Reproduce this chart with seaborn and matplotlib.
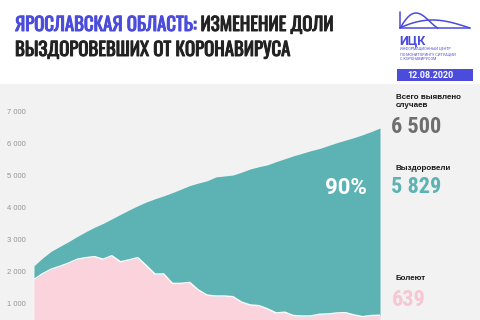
import numpy as np
import pandas as pd
import seaborn as sns
import matplotlib.pyplot as plt
import matplotlib.patheffects as pe
from matplotlib import font_manager

# данные
day = list(range(41))
total = [2195, 2440, 2650, 2800, 2950, 3110, 3260, 3400, 3520, 3660,
         3800, 3940, 4070, 4190, 4290, 4380, 4480, 4590, 4700, 4780,
         4850, 4970, 5000, 5030, 5120, 5220, 5290, 5350, 5450, 5540,
         5630, 5710, 5790, 5860, 5950, 6040, 6120, 6200, 6290, 6390, 6500]
active = [1770, 1950, 2090, 2180, 2280, 2400, 2450, 2480, 2400, 2510,
          2320, 2380, 2450, 2200, 1935, 1940, 1645, 1645, 1675, 1440,
          1280, 1250, 1250, 1230, 1060, 970, 950, 850, 720, 745,
          640, 625, 625, 680, 690, 720, 730, 660, 605, 640, 650]
yticks = [1000, 2000, 3000, 4000, 5000, 6000, 7000]
ytick_labels = ["1 000", "2 000", "3 000", "4 000", "5 000", "6 000", "7 000"]

df = pd.DataFrame({"day": day, "total": total, "active": active})

TEAL = "#5db3b3"
PINK = "#fad3dd"
BG = "#f2f2f2"
BLUE = "#4b4bdc"
DARK = "#222222"

sns.set_theme(style="white")
names = {f.name for f in font_manager.fontManager.ttflist}
if "Oswald" in names:
    head_font, head_size = ["Oswald", "DejaVu Sans"], 13.5
else:
    head_font, head_size = ["DejaVu Sans"], 9
num_font = ["Roboto Condensed", "Roboto", "DejaVu Sans"] if "Roboto Condensed" in names else ["Roboto", "DejaVu Sans"]
plt.rcParams["font.family"] = ["Roboto", "DejaVu Sans"]

W, H = 480, 320
fig = plt.figure(figsize=(4.8, 3.2), dpi=100)
fig.patch.set_facecolor("white")


def fx(x):
    return np.asarray(x) / W


def fy(y):
    return 1 - np.asarray(y) / H


# серый фон под графиком
fig.add_artist(plt.Rectangle((0, 0), 1, fy(84), transform=fig.transFigure,
                             facecolor=BG, edgecolor="none", zorder=-5))

ax = fig.add_axes([fx(34), 0, fx(380) - fx(34), fy(100)])
ax.set_facecolor("none")
ax.fill_between(df["day"], 0, df["active"], color=PINK, lw=0)
ax.fill_between(df["day"], df["active"], df["total"], color=TEAL, lw=0)
sns.lineplot(data=df, x="day", y="active", color="white", lw=1, ax=ax)
ax.set_xlim(0, 40)
ax.set_ylim(500, 7375)
ax.set_yticks(yticks)
ax.set_yticklabels(ytick_labels, fontsize=5.5, color="#959595", family="Liberation Sans")
ax.tick_params(axis="y", length=0, pad=6)
ax.set_xticks([])
ax.set_xlabel("")
ax.set_ylabel("")
sns.despine(ax=ax, left=True, bottom=True)

ax.text(36.1, 4625, "90%", color="white", fontsize=16, fontweight="bold",
        ha="center", va="center", family=["Roboto", "DejaVu Sans"])

# заголовок
t1 = fig.text(fx(15), fy(31), "ЯРОСЛАВСКАЯ ОБЛАСТЬ:", color=BLUE, fontsize=head_size,
              fontweight="bold", family=head_font,
              path_effects=[pe.withStroke(linewidth=0.7, foreground=BLUE)])
ax.annotate(" ИЗМЕНЕНИЕ ДОЛИ", xy=(1, 0), xycoords=t1, color=DARK, fontsize=head_size,
            fontweight="bold", family=head_font, va="bottom", annotation_clip=False,
            path_effects=[pe.withStroke(linewidth=0.7, foreground=DARK)])
fig.text(fx(15), fy(56), "ВЫЗДОРОВЕВШИХ ОТ КОРОНАВИРУСА", color=DARK, fontsize=head_size,
         fontweight="bold", family=head_font,
         path_effects=[pe.withStroke(linewidth=0.7, foreground=DARK)])

# логотип
fig.add_artist(plt.Line2D(fx([400, 400]), fy([12, 28]), color=BLUE, lw=1.1))
fig.add_artist(plt.Line2D(fx([400, 470]), fy([28, 28]), color=BLUE, lw=1.1))
tt = np.linspace(0, 1, 40)
cx = 400 + 38 * tt
cy = 28 - 15 * np.sin(np.pi * tt ** 0.8) ** 1.3
fig.add_artist(plt.Line2D(fx(cx), fy(cy), color=BLUE, lw=1.1))
cx2 = 400 + 70 * tt
cy2 = 28 - 8 * np.sin(np.pi * tt ** 0.9)
fig.add_artist(plt.Line2D(fx(cx2), fy(cy2), color=BLUE, lw=1.1))
fig.text(fx(399), fy(44.5), "ИЦК", color=BLUE, fontsize=9, fontweight="bold")
fig.text(fx(400), fy(47.5), "ИНФОРМАЦИОННЫЙ ЦЕНТР\nПО МОНИТОРИНГУ СИТУАЦИИ\nС КОРОНАВИРУСОМ",
         color=BLUE, fontsize=2.7, va="top", linespacing=1.15)
fig.add_artist(plt.Rectangle((fx(397), fy(81)), fx(76), 12 / H, transform=fig.transFigure,
                             facecolor=BLUE, edgecolor="none"))
fig.text(fx(430), fy(75), "12.08.2020", color="white", fontsize=6.5,
         fontweight="bold", ha="center", va="center")

# подписи справа
fig.text(fx(396), fy(94), "Всего выявлено\nслучаев", color="#1a1a1a", fontsize=5.8,
         fontweight="bold", va="top", linespacing=1.15, family="Liberation Sans")
fig.text(fx(391), fy(127), "6 500", color="#6e6e6e", fontsize=16, fontweight="bold",
         va="center", family=num_font)
fig.text(fx(396), fy(169), "Выздоровели", color="#1a1a1a", fontsize=5.8,
         fontweight="bold", va="center", family="Liberation Sans")
fig.text(fx(391), fy(187), "5 829", color=TEAL, fontsize=16, fontweight="bold",
         va="center", family=num_font)
fig.text(fx(396), fy(279), "Болеют", color="#1a1a1a", fontsize=5.8,
         fontweight="bold", va="center", family="Liberation Sans")
fig.text(fx(392), fy(300), "639", color="#f6c6d2", fontsize=16, fontweight="bold",
         va="center", family=num_font)

fig.savefig("out.png", dpi=100, facecolor=fig.get_facecolor())
